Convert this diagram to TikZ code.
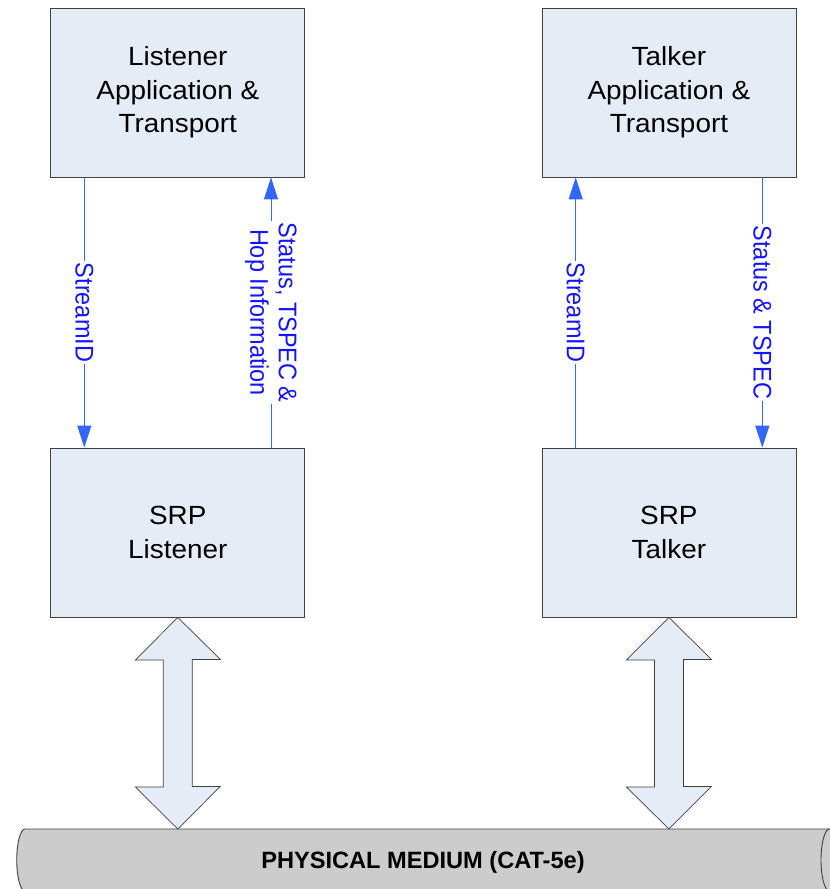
\documentclass[tikz,border=0pt]{standalone}
\usepackage{fontspec}
\setmainfont{Liberation Sans}
\newfontfamily\widef[FakeStretch=1.06]{Liberation Sans}
\newfontfamily\narrowf[FakeStretch=0.92]{Liberation Sans}
\usetikzlibrary{arrows.meta}
\definecolor{boxfill}{RGB}{230,236,246}
\definecolor{boxline}{RGB}{64,64,64}
\definecolor{conn}{RGB}{51,102,255}
\definecolor{lbl}{RGB}{20,20,255}
\definecolor{medium}{RGB}{204,204,204}
\begin{document}
\begin{tikzpicture}[x=1pt,y=-1pt,
 blk/.style={draw=boxline, line width=0.8pt, fill=boxfill, minimum width=254pt, minimum height=169pt, inner sep=0pt, align=center, font=\widef\fontsize{26.3}{33.5}\selectfont},
 flow/.style={draw=conn, line width=1pt, -{Triangle[length=22pt,width=14pt]}},
 lab/.style={fill=white, text=lbl, rotate=-90, inner sep=2pt, align=center, font=\narrowf\fontsize{25.5}{28.5}\selectfont},
 fat/.style={draw=boxline, line width=0.7pt, fill=boxfill, line join=miter},
 cyl/.style={draw=boxline, line width=0.9pt}]
\useasboundingbox (0,0) rectangle (830,889);

% physical medium cylinder
\fill[medium] (25,829) -- (845,829) -- (845,895) -- (25,895) -- (25,891)
  .. controls (20.42,891) and (16.7,877.1) .. (16.7,860)
  .. controls (16.7,842.9) and (20.42,829) .. (25,829) -- cycle;
\draw[cyl] (845,829) -- (25,829)
  .. controls (20.42,829) and (16.7,842.9) .. (16.7,860)
  .. controls (16.7,877.1) and (20.42,891) .. (25,891);
\draw[cyl] (829.5,829) .. controls (824.8,829) and (821,842.9) .. (821,860)
  .. controls (821,877.1) and (824.8,891) .. (829.5,891);
\node[anchor=base, font=\bfseries\fontsize{23.6}{27}\selectfont] (pm) at (423,868.3) {PHYSICAL MEDIUM (CAT-5e)};

% boxes
\node[blk] (la) at (177.8,92.5) {Listener\\Application \&\\Transport};
\node[blk] (ta) at (668.9,92.5) {Talker\\Application \&\\Transport};
\node[blk] (sl) at (177.8,532.5) {SRP\\Listener};
\node[blk] (st) at (668.9,532.5) {SRP\\Talker};

% connector x positions
\coordinate (x1) at (84.3,0);
\coordinate (x2) at (271,0);
\coordinate (x3) at (575.7,0);
\coordinate (x4) at (762.3,0);
\coordinate (mt) at (0,829);

\draw[flow] (la.south -| x1) -- node[lab]{StreamID} (sl.north -| x1);
\draw[flow] (sl.north -| x2) -- node[lab]{Status, TSPEC \&\\Hop Information} (la.south -| x2);
\draw[flow] (st.north -| x3) -- node[lab]{StreamID} (ta.south -| x3);
\draw[flow] (ta.south -| x4) -- node[lab]{Status \& TSPEC} (st.north -| x4);

% fat double arrows
\foreach \b in {sl,st}{
  \draw[fat] (\b.south) -- ++(42.5,42) -- ++(-28,0) -- ++(0,127) -- ++(28,0)
    -- (\b.south |- mt) -- ++(-42.5,-42) -- ++(28,0) -- ++(0,-127) -- ++(-28,0) -- cycle;
}
\end{tikzpicture}
\end{document}
